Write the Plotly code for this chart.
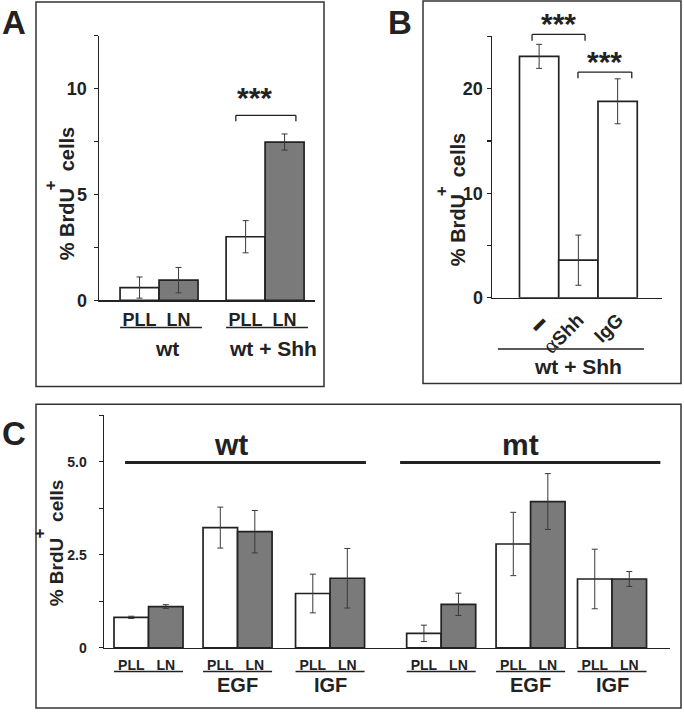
import plotly.graph_objects as go

W, H = 684, 720

# ---------------- data ----------------
# Panel A
A_groups = ["wt", "wt + Shh"]
A_bar_labels = ["PLL", "LN"]
A_PLL = [0.6, 3.0]
A_PLL_err = [0.5, 0.76]
A_LN = [0.95, 7.47]
A_LN_err = [0.6, 0.38]
A_yticks = [0, 2.5, 5, 7.5, 10, 12.5]
A_yticklabels = ["0", "", "5", "", "10", ""]

# Panel B
B_categories = ["<span style=\"font-size:14px\">\u25ac</span>",
                "<span style=\"font-family:Liberation Serif;font-weight:normal;font-size:22px\">\u03b1</span>Shh",
                "IgG"]
B_values = [23.1, 3.6, 18.8]
B_err = [1.15, 2.4, 2.15]
B_group = "wt + Shh"
B_yticks = [0, 5, 10, 15, 20, 25]
B_yticklabels = ["0", "", "10", "", "20", ""]

# Panel C
C_strains = ["wt", "mt"]
C_treatments = ["", "EGF", "IGF", "", "EGF", "IGF"]
C_PLL = [0.82, 3.23, 1.46, 0.39, 2.79, 1.85]
C_PLL_err = [0.03, 0.55, 0.52, 0.22, 0.85, 0.8]
C_LN = [1.11, 3.12, 1.87, 1.17, 3.93, 1.85]
C_LN_err = [0.05, 0.57, 0.8, 0.3, 0.75, 0.2]
C_yticks = [0, 1.25, 2.5, 3.75, 5.0, 6.25]
C_yticklabels = ["0", "", "2.5", "", "5.0", ""]

# ---------------- layout constants ----------------
A_group_x = [1.54, 4.26]
A_xrange = [0, 5.54]
B_x = [1.2, 2.2, 3.2]
B_xrange = [0, 4.33]
C_group_x = [1.29, 3.87, 6.55, 9.77, 12.36, 14.72]
C_xrange = [0, 16.4]

INK = "#222222"
GRAY = "#7a7a7a"
FONT = "Liberation Sans, Arial, sans-serif"


def px(x):
    return x / W


def py(y):
    return 1 - y / H


def bfont(size):
    return dict(family=FONT, size=size, color=INK)


def b(t):
    return "<b>" + t + "</b>" if t else t


fig = go.Figure()

err_style = dict(type="data", color="#3a3a3a", thickness=1, width=3, visible=True)
bar_line = dict(color=INK, width=1.7)

# Panel A bars
fig.add_bar(x=[g - 0.5 for g in A_group_x], y=A_PLL, width=1, xaxis="x", yaxis="y",
            marker=dict(color="white", line=bar_line),
            error_y=dict(array=A_PLL_err, **err_style), showlegend=False)
fig.add_bar(x=[g + 0.5 for g in A_group_x], y=A_LN, width=1, xaxis="x", yaxis="y",
            marker=dict(color=GRAY, line=bar_line),
            error_y=dict(array=A_LN_err, **err_style), showlegend=False)

# Panel B bars
fig.add_bar(x=B_x, y=B_values, width=1, xaxis="x2", yaxis="y2",
            marker=dict(color="white", line=bar_line),
            error_y=dict(array=B_err, **err_style), showlegend=False)

# Panel C bars
fig.add_bar(x=[g - 0.5 for g in C_group_x], y=C_PLL, width=1, xaxis="x3", yaxis="y3",
            marker=dict(color="white", line=bar_line),
            error_y=dict(array=C_PLL_err, **err_style), showlegend=False)
fig.add_bar(x=[g + 0.5 for g in C_group_x], y=C_LN, width=1, xaxis="x3", yaxis="y3",
            marker=dict(color=GRAY, line=bar_line),
            error_y=dict(array=C_LN_err, **err_style), showlegend=False)


def xax(domain, rng, tickvals, ticktext, size, anchor, ticklen=1, angle=0):
    return dict(domain=domain, range=rng, anchor=anchor, showline=True, linecolor=INK,
                linewidth=1.5, showgrid=False, zeroline=False, tickvals=tickvals,
                ticktext=[b(t) for t in ticktext], ticks="outside", ticklen=ticklen,
                tickcolor="rgba(0,0,0,0)", tickfont=bfont(size), tickangle=angle,
                fixedrange=True)


def yax(domain, rng, tickvals, ticktext, size, anchor, standoff):
    return dict(domain=domain, range=rng, anchor=anchor, showline=True, linecolor=INK,
                linewidth=1.5, showgrid=False, zeroline=False, tickvals=tickvals,
                ticktext=[b(t) for t in ticktext], ticks="outside", ticklen=4, tickcolor=INK,
                tickwidth=1.2, tickfont=bfont(size), ticklabelstandoff=standoff,
                fixedrange=True)


A_tickx = [g + d for g in A_group_x for d in (-0.5, 0.5)]
C_tickx = [g + d for g in C_group_x for d in (-0.5, 0.5)]

fig.update_layout(
    width=W, height=H, margin=dict(l=0, r=0, t=0, b=0),
    paper_bgcolor="white", plot_bgcolor="white", barmode="overlay",
    xaxis=xax([px(99), px(315)], A_xrange, A_tickx, A_bar_labels * 2, 18, "y", ticklen=3),
    yaxis=yax([py(304.5), py(36)], [0, 12.5], A_yticks, A_yticklabels, 18, "x", 3),
    xaxis2=xax([px(492), px(662)], B_xrange, B_x, B_categories, 19, "y2", ticklen=2, angle=-45),
    yaxis2=yax([py(302), py(37)], [0, 25], B_yticks, B_yticklabels, 18, "x2", 0),
    xaxis3=xax([px(104), px(670)], C_xrange, C_tickx, A_bar_labels * 6, 14, "y3", ticklen=4),
    yaxis3=yax([py(657), py(421)], [0, 6.25], C_yticks, C_yticklabels, 14, "x3", 9),
)

shapes = []
# panel boxes
for (x0, x1, y0, y1) in [(36, 324, 2, 392), (423, 681, 1, 389), (36, 681, 410, 718)]:
    shapes.append(dict(type="rect", xref="paper", yref="paper", x0=px(x0), x1=px(x1),
                       y0=py(y1), y1=py(y0), line=dict(color="#333333", width=1.5)))


def hline(xref, x0, x1, y, width=1.5):
    shapes.append(dict(type="line", xref=xref, yref="paper", x0=x0, x1=x1, y0=y, y1=y,
                       line=dict(color=INK, width=width)))


def bracket(xref, yref, x0, x1, ytop, ybot):
    for (a, bb, c, d) in [(x0, x0, ybot, ytop), (x0, x1, ytop, ytop), (x1, x1, ytop, ybot)]:
        shapes.append(dict(type="line", xref=xref, yref=yref, x0=a, x1=bb, y0=c, y1=d,
                           line=dict(color=INK, width=1.3)))


# Panel A underlines + bracket
for g in A_group_x:
    hline("x", g - 1.0, g + 1.1, py(332))
bracket("x", "y", 3.51, 5.05, 8.73, 8.45)

# Panel B underline + brackets (y in domain fraction of 25)
hline("x2", 0.15, 3.87, py(354))
bracket("x2", "y2 domain", 1.02, 2.37, 25.2 / 25, 24.6 / 25)
bracket("x2", "y2 domain", 2.19, 3.56, 21.6 / 25, 21.0 / 25)

# Panel C underlines + strain lines
for g in C_group_x:
    hline("x3", g - 1.0, g + 1.0, py(681))
hline("x3", C_group_x[0] - 0.68, C_group_x[2] + 1.04, py(469), width=3)
hline("x3", C_group_x[3] - 1.19, C_group_x[5] + 1.4, py(469), width=3)

fig.update_layout(shapes=shapes)

ann = []


def note(text, x, y, size, xref="paper", yref="paper", angle=0, xshift=0):
    ann.append(dict(text=b(text), x=x, y=y, xref=xref, yref=yref, showarrow=False,
                    font=bfont(size), textangle=angle, xanchor="center",
                    yanchor="middle", xshift=xshift))


# panel letters
note("A", px(14), py(23), 33)
note("B", px(400), py(23), 33)
note("C", px(14), py(440), 33)

# y titles
NB = "\u00a0"
for (tx, ty, plx, ply, sz) in [(67, 197, 50, 188, 20), (458, 203, 441, 194, 20), (56, 551, 39, 541, 19)]:
    note("% BrdU" + NB * 3 + "cells", px(tx), py(ty), sz, angle=-90)
    note("+", px(plx), py(ply), 17, angle=-90)

# Panel A group labels and stars
for g, name in zip(A_group_x, A_groups):
    note(name, g, py(353), 21, xref="x", xshift=8)
note("***", 4.0, 9.55, 30, xref="x", yref="y")

# Panel B group label and stars (y in domain fraction)
note(B_group, B_x[1], py(372), 21, xref="x2")
note("***", 1.7, 26.2 / 25, 30, xref="x2", yref="y2 domain")
note("***", 2.87, 22.6 / 25, 30, xref="x2", yref="y2 domain")

# Panel C labels
note(C_strains[0], C_group_x[1], py(451), 30, xref="x3", xshift=-7)
note(C_strains[1], C_group_x[4], py(451), 30, xref="x3", xshift=-10)
for g, t in zip(C_group_x, C_treatments):
    if t:
        note(t, g, py(695), 20, xref="x3")

fig.update_layout(annotations=ann)

fig.write_html(
    "out.html",
    config={"displayModeBar": False, "staticPlot": True},
    post_script="document.body.style.margin='0';document.body.style.overflow='hidden';"
                "document.documentElement.style.overflow='hidden';",
)
